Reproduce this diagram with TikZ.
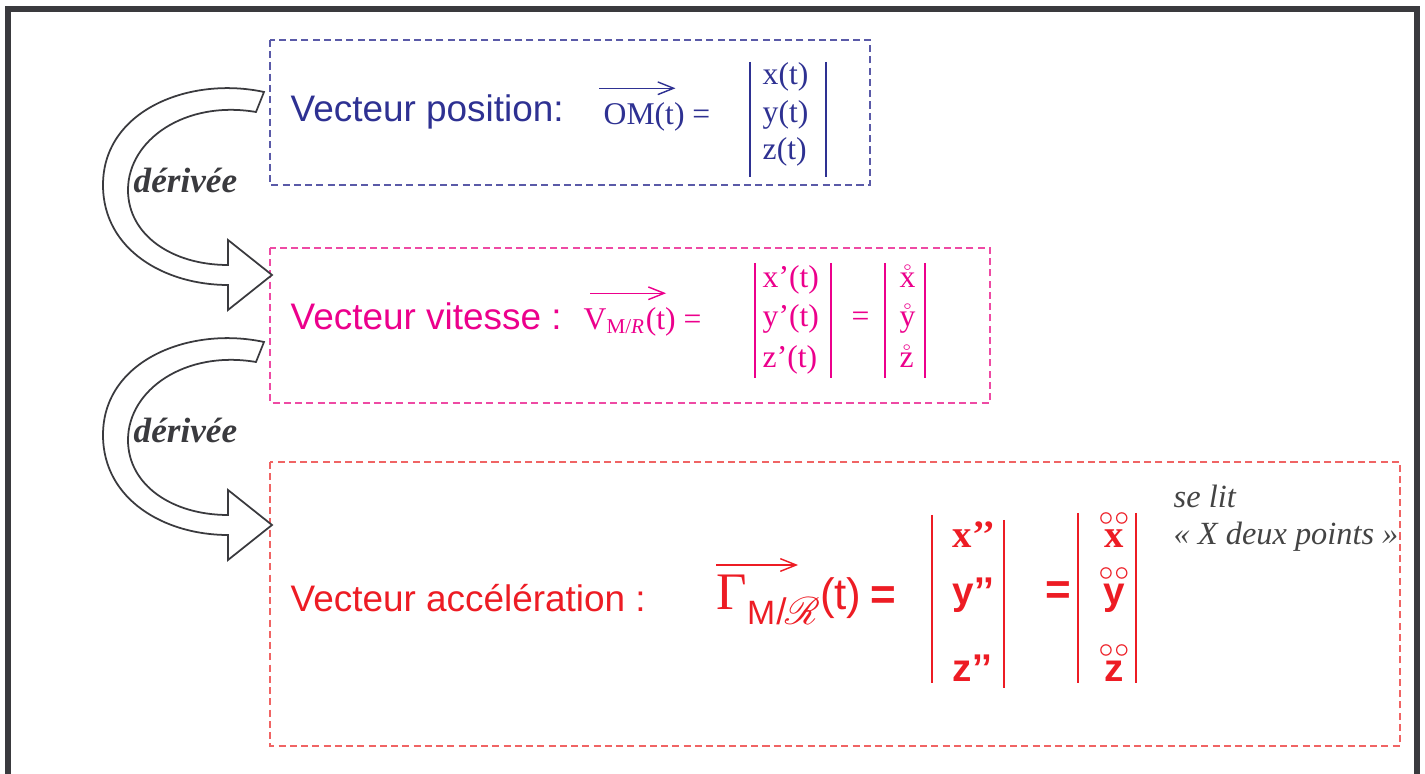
\documentclass[tikz,border=0pt]{standalone}
\usepackage{fontspec}
\usepackage{amsmath}
\usepackage{mathrsfs}
\setmainfont{Liberation Serif}
\setsansfont{Liberation Sans}
\usetikzlibrary{arrows.meta}

\definecolor{posblue}{HTML}{2E3192}
\definecolor{posdash}{HTML}{5A5AA8}
\definecolor{vitpink}{HTML}{EC008C}
\definecolor{vitdash}{HTML}{EE4AA4}
\definecolor{accred}{HTML}{ED1C24}
\definecolor{accdash}{HTML}{F06464}
\definecolor{framegrey}{HTML}{3A3A3E}
\definecolor{notegrey}{HTML}{444444}

\newcommand\ringring[1]{$\overset{\raisebox{-0.45ex}{$\scriptstyle\circ\mkern0.5mu\circ$}}{\text{#1}}$}

\begin{document}
\begin{tikzpicture}[x=0.01cm,y=-0.01cm,
frame/.style={draw=framegrey,line width=1.7pt},
dashbox/.style={dash pattern=on 2pt off 1.2pt,line width=0.4pt},
title/.style={font=\fontsize{10.5}{12}\sffamily,anchor=base west,inner sep=0pt},
entry/.style={font=\fontsize{9}{10}\selectfont,anchor=base west,inner sep=0pt},
bigentry/.style={font=\fontsize{11}{12}\selectfont\bfseries,anchor=base west,inner sep=0pt},
sansentry/.style={bigentry,font=\fontsize{11}{12}\sffamily\bfseries},
bar/.style={line width=0.55pt},
vecarrow/.style={-{Straight Barb[length=4.5pt,width=3.6pt]},line width=0.4pt},
bigarrow/.style={draw=framegrey,fill=white,line width=0.5pt},
derive/.style={font=\fontsize{10}{12}\selectfont\bfseries\itshape,text=framegrey,anchor=base west,inner sep=0pt} ]

\useasboundingbox (0,0) rectangle (1425,774);
\draw[frame] (8,9) rectangle (1417,820);

% les trois cadres
\draw[dashbox,draw=posdash] (270,40) rectangle (870,185);
\draw[dashbox,draw=vitdash] (270,248) rectangle (990,403);
\draw[dashbox,draw=accdash] (270,462) rectangle (1400,746);

% fleches "derivee"
\foreach \dy in {0,250}
{
\draw[bigarrow,shift={(0,\dy)}] (264,92) .. controls (190,76) and (103,110) .. (103,185)
  .. controls (103,250) and (165,285) .. (228,285) -- (228,310) -- (272,275) -- (228,240)
  -- (228,265) .. controls (172,265) and (128,235) .. (128,190)
  .. controls (128,140) and (185,100) .. (256,112) -- cycle;
}
\node[derive](der1) at (133,193) {dérivée};
\node[derive](der2) at (133,443) {dérivée};

% position
\begin{scope}[text=posblue,draw=posblue]
\node[title](titlepos) at (290,122) {Vecteur position:};
\node[entry](om) at (603,125) {OM(t) =};
\node[entry](xpos) at (762,85) {x(t)};
\node[entry](ypos) at (762,123) {y(t)};
\node[entry](zpos) at (762,160) {z(t)};
\draw[vecarrow,posblue] ([xshift=-1pt,yshift=4pt]om.north west) -- ++(76,0);
\foreach \bx in {750,826}
  \draw[bar,posblue] (\bx,62) -- (\bx,177);
\end{scope}

% vitesse
\begin{scope}[text=vitpink]
\node[title](titlevit) at (290,330) {Vecteur vitesse :};
\node[entry](vmr) at (583,330) {V\textsubscript{M/\textit{R}}(t) =};
\node[entry](xvit) at (762,288) {x’(t)};
\node[entry](yvit) at (762,327) {y’(t)};
\node[entry](zvit) at (762,368) {z’(t)};
\node[entry](eqvit) at (851,327) {=};
\node[entry](xrvit) at (899,288) {$\mathring{\text{x}}$};
\node[entry](yrvit) at (899,327) {$\mathring{\text{y}}$};
\node[entry](zrvit) at (899,368) {$\mathring{\text{z}}$};
\draw[vecarrow,vitpink] ([xshift=2pt,yshift=4pt]vmr.north west) -- ++(76,0);
\foreach \bx in {755,831,885,925}
  \draw[bar,vitpink] (\bx,263) -- (\bx,378);
\end{scope}

% acceleration
\begin{scope}[text=accred]
\node[title](titleacc) at (290,612) {Vecteur accélération :};
\node[anchor=base west,inner sep=0pt](gamma) at (716,610)
  {{\fontsize{15}{15}\selectfont Γ}\raisebox{-0.9ex}{\fontsize{9.6}{10}\sffamily M\kern0.3pt{\fontsize{10.5}{10}\selectfont/}\kern-0.5pt{\fontsize{11}{11}\selectfont$\mathscr{R}$}}{\fontsize{12.5}{13}\sffamily(t)\kern2.5pt\textbf{=}}};
\node[bigentry](xacc) at (952,548) {x’’};
\node[sansentry](yacc) at (952,605) {y’’};
\node[sansentry](zacc) at (952,682) {z’’};
\node[sansentry,font=\fontsize{12.5}{13}\sffamily\bfseries](eqacc) at (1045,605) {=};
\node[bigentry](xracc) at (1098,548) {\ringring{\bfseries x}};
\node[sansentry](yracc) at (1098,605) {\ringring{\sffamily\bfseries y}};
\node[sansentry](zracc) at (1098,682) {\ringring{\sffamily\bfseries z}};
\draw[vecarrow,accred] (716,565) -- (798,565);
\draw[bar,accred] (932,515) -- (932,683);
\draw[bar,accred] (1004,520) -- (1004,688);
\foreach \bx in {1078,1136}
  \draw[bar,accred] (\bx,513) -- (\bx,683);
\end{scope}

% note
\node[entry,font=\fontsize{9.2}{11}\selectfont\itshape,text=notegrey](selit) at (1173,508) {se lit};
\node[entry,font=\fontsize{9.2}{11}\selectfont\itshape,text=notegrey](xdeux) at (1173,545) {« X deux points »};
\end{tikzpicture}
\end{document}
